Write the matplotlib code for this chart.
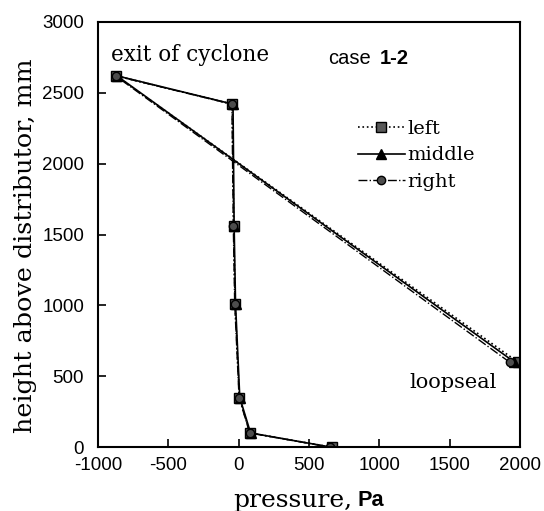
import matplotlib.pyplot as plt

plt.rcParams['axes.unicode_minus'] = False

# measured points, path: loopseal -> exit of cyclone -> down the riser
height = [600, 2620, 2420, 1560, 1010, 350, 100, 0]
p_left = [1985, -870, -45, -35, -25, 5, 80, 660]
p_middle = [1960, -865, -40, -32, -22, 8, 85, 655]
p_right = [1925, -875, -48, -38, -28, 3, 78, 650]

serif = 'DejaVu Serif'
sans = 'Liberation Sans'

fig = plt.figure(figsize=(5.44, 5.11), dpi=100)
ax = fig.add_axes([0.180, 0.125, 0.776, 0.832])

ax.plot(p_left, height, color='k', linestyle=':', linewidth=1.2,
        marker='s', markersize=7, markerfacecolor='0.35', markeredgecolor='k',
        label='left')
ax.plot(p_middle, height, color='k', linestyle='-', linewidth=1.2,
        marker='^', markersize=7, markerfacecolor='k', markeredgecolor='k',
        label='middle')
ax.plot(p_right, height, color='k', linestyle='-.', linewidth=1.0,
        marker='o', markersize=6, markerfacecolor='0.3', markeredgecolor='k',
        label='right')

ax.set_xlim(-1000, 2000)
ax.set_ylim(0, 3000)
ax.set_xticks([-1000, -500, 0, 500, 1000, 1500, 2000])
ax.set_yticks([0, 500, 1000, 1500, 2000, 2500, 3000])
ax.tick_params(direction='in', length=6, width=1.2, labelsize=13.5)
ax.tick_params(axis='y', pad=10)
ax.tick_params(axis='x', pad=7)
for lab in ax.get_xticklabels() + ax.get_yticklabels():
    lab.set_fontfamily(sans)
for s in ax.spines.values():
    s.set_linewidth(1.5)

ax.text(-905, 2770, 'exit of cyclone', family=serif, fontsize=15.5, va='center')
ax.text(635, 2745, 'case', family=sans, fontsize=14.5, va='center')
ax.text(1000, 2745, '1-2', family=sans, fontsize=14.5, fontweight='bold', va='center')
ax.text(1215, 455, 'loopseal', family=serif, fontsize=15, va='center')

leg = ax.legend(loc='upper left', bbox_to_anchor=(0.575, 0.81), frameon=False,
                handlelength=2.4, handletextpad=0.15, labelspacing=0.42,
                prop={'family': serif, 'size': 14})

fig.text(0.648, 0.02, 'pressure,', family=serif, fontsize=18, ha='right', va='center')
fig.text(0.682, 0.02, 'Pa', family=sans, fontsize=15.6, fontweight='bold', ha='center', va='center')
fig.text(0.046, 0.52, 'height above distributor, mm', family=serif, fontsize=18.3,
         rotation=90, ha='center', va='center')

fig.savefig('out.png', dpi=100)
